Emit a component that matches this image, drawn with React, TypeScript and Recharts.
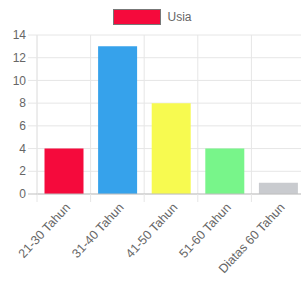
import { Bar, BarChart, CartesianGrid, Cell, Legend, XAxis, YAxis } from "recharts";

const categories = ["21-30 Tahun", "31-40 Tahun", "41-50 Tahun", "51-60 Tahun", "Diatas 60 Tahun"];
const usiaValues = [4, 13, 8, 4, 1];
const barColors = ["#f50a3c", "#36a2eb", "#f7fa50", "#78f58a", "#c9cbcf"];
const yTicks = [0, 2, 4, 6, 8, 10, 12, 14];
const gridTicks = [0, 1, 2, 3, 4, 5];

const data = categories.map((name, i) => ({ name, idx: i, value: usiaValues[i] }));

const GRID = "#e6e6e6";
const ZERO = "#bfbfbf";
const TEXT = "#666";

function XTick(props: any) {
  const { x, y, payload } = props;
  const off = payload.offset ?? 0;
  return (
    <g>
      <line x1={x - off} x2={x - off} y1={y} y2={y + 8} stroke={GRID} />
      <g transform={`translate(${x + 4},${y + 11}) rotate(-47)`}>
        <text x={0} y={0} textAnchor="end" dy="0.35em" fill={TEXT} fontSize={12.5}>
          {payload.value}
        </text>
      </g>
    </g>
  );
}

function YTick({ x, y, payload }: any) {
  return (
    <g>
      <line x1={x + 2} x2={x + 11} y1={y} y2={y} stroke={payload.value === 0 ? ZERO : GRID} />
      <text x={x} y={y} dy="0.35em" textAnchor="end" fill={TEXT} fontSize={12}>
        {payload.value}
      </text>
    </g>
  );
}

function LegendBox() {
  return (
    <div style={{ height: 30, display: "flex", justifyContent: "center", alignItems: "flex-start", paddingTop: 4, boxSizing: "border-box" }}>
      <div style={{ display: "flex", alignItems: "center" }}>
        <div style={{ width: 48, height: 16, background: barColors[0], border: "1px solid #777", boxSizing: "border-box" }} />
        <span style={{ marginLeft: 6, fontSize: 12, color: TEXT }}>Usia</span>
      </div>
    </div>
  );
}

export default function App() {
  return (
    <div style={{ position: "absolute", left: 0, top: 0, width: 301, height: 287, overflow: "hidden", fontFamily: "'Liberation Sans', Arial, sans-serif" }}>
      <BarChart width={306} height={287} data={data} margin={{ top: 5, right: 1, bottom: 0, left: 0 }} barCategoryGap="14%">
        <Legend verticalAlign="top" content={<LegendBox />} />
        <XAxis xAxisId="grid" type="number" dataKey="idx" domain={[0, 5]} ticks={gridTicks} hide />
        <CartesianGrid xAxisId="grid" stroke={GRID} />
        <XAxis
          dataKey="name"
          interval={0}
          height={93}
          tickSize={0}
          tickMargin={0}
          tickLine={false}
          axisLine={{ stroke: ZERO }}
          tick={(p: any) => <XTick {...p} />}
        />
        <YAxis
          width={37}
          domain={[0, 14]}
          ticks={yTicks}
          interval={0}
          tickSize={0}
          tickMargin={11}
          tickLine={false}
          axisLine={{ stroke: GRID }}
          tick={<YTick />}
        />
        <Bar dataKey="value" isAnimationActive={false}>
          {data.map((d, i) => (
            <Cell key={d.name} fill={barColors[i]} />
          ))}
        </Bar>
      </BarChart>
    </div>
  );
}
